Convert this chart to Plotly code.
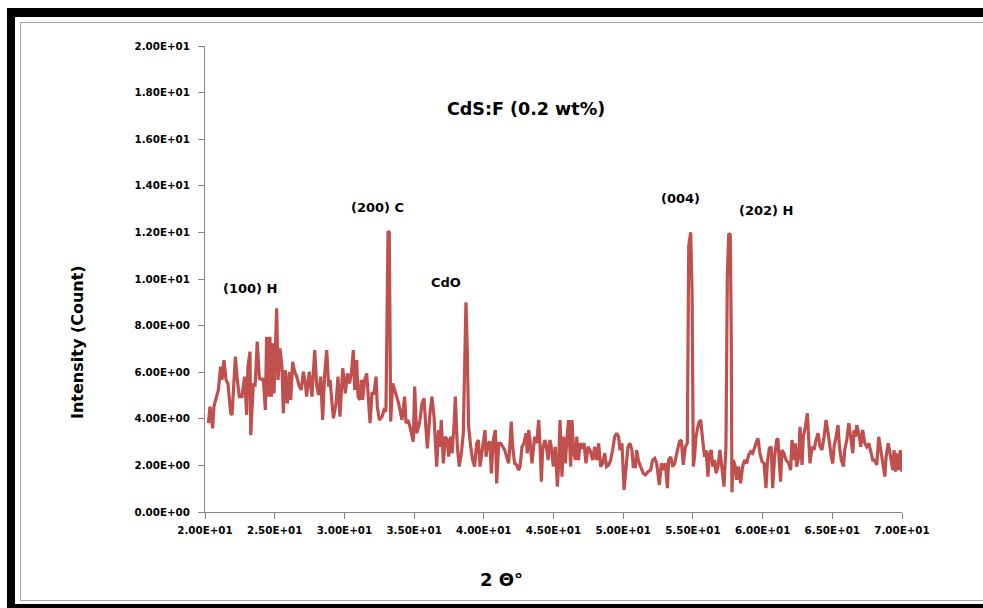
import plotly.graph_objects as go

# ---- data ----
x_deg = [
    20.24, 20.36, 20.55, 20.64, 20.79, 20.96, 21.12, 21.22, 21.36, 21.51, 21.65, 21.84, 21.94,
    22.18, 22.32, 22.46, 22.65, 22.84, 22.99, 23.08, 23.23, 23.28, 23.47, 23.59, 23.75, 23.90,
    24.09, 24.18, 24.33, 24.42, 24.57, 24.66, 24.76, 24.85, 24.95, 25.04, 25.14, 25.24, 25.38,
    25.52, 25.62, 25.76, 25.91, 26.05, 26.15, 26.29, 26.43, 26.58, 26.77, 26.91, 27.05, 27.20,
    27.29, 27.48, 27.67, 27.87, 28.01, 28.15, 28.30, 28.44, 28.58, 28.73, 28.87, 28.97, 29.11,
    29.21, 29.40, 29.54, 29.68, 29.88, 30.07, 30.21, 30.36, 30.50, 30.64, 30.74, 30.88, 30.98,
    31.12, 31.21, 31.31, 31.45, 31.60, 31.69, 31.84, 31.98, 32.12, 32.27, 32.36, 32.51, 32.70,
    32.84, 32.98, 33.13, 33.22, 33.32, 33.46, 33.61, 33.89, 34.13, 34.32, 34.42, 34.56, 34.70,
    34.80, 34.94, 35.04, 35.18, 35.33, 35.42, 35.57, 35.71, 35.81, 35.95, 36.14, 36.28, 36.43,
    36.62, 36.76, 36.86, 36.95, 37.10, 37.24, 37.38, 37.48, 37.62, 37.72, 37.86, 37.96, 38.10,
    38.24, 38.39, 38.53, 38.63, 38.72, 38.82, 38.91, 39.06, 39.20, 39.34, 39.49, 39.61, 39.73,
    39.92, 40.09, 40.16, 40.30, 40.44, 40.54, 40.68, 40.83, 40.92, 41.07, 41.21, 41.35, 41.50,
    41.64, 41.78, 41.88, 41.97, 42.07, 42.21, 42.36, 42.50, 42.60, 42.74, 42.88, 43.03, 43.12,
    43.22, 43.31, 43.46, 43.55, 43.65, 43.79, 43.94, 44.03, 44.13, 44.22, 44.37, 44.46, 44.61,
    44.75, 44.84, 44.99, 45.13, 45.28, 45.37, 45.47, 45.61, 45.71, 45.85, 45.99, 46.09, 46.23,
    46.33, 46.42, 46.57, 46.66, 46.80, 46.90, 47.04, 47.19, 47.33, 47.48, 47.62, 47.81, 47.95,
    48.10, 48.24, 48.38, 48.53, 48.67, 48.81, 48.96, 49.10, 49.24, 49.39, 49.53, 49.67, 49.77,
    49.91, 50.06, 50.34, 50.48, 50.63, 50.72, 50.87, 50.96, 51.11, 51.25, 51.44, 51.59, 51.78,
    51.97, 52.11, 52.26, 52.40, 52.59, 52.74, 52.88, 53.02, 53.17, 53.26, 53.41, 53.55, 53.69,
    53.88, 54.03, 54.17, 54.31, 54.46, 54.60, 54.70, 54.84, 54.94, 55.03, 55.12, 55.22, 55.41,
    55.56, 55.70, 55.84, 55.94, 56.08, 56.18, 56.32, 56.42, 56.56, 56.66, 56.80, 56.94, 57.09,
    57.23, 57.37, 57.47, 57.57, 57.68, 57.75, 57.80, 57.90, 58.04, 58.14, 58.28, 58.42, 58.57,
    58.71, 58.86, 59.00, 59.14, 59.29, 59.43, 59.57, 59.67, 59.81, 59.96, 60.10, 60.24, 60.34,
    60.48, 60.62, 60.72, 60.86, 61.01, 61.10, 61.20, 61.29, 61.39, 61.53, 61.68, 61.87, 62.01,
    62.11, 62.25, 62.35, 62.44, 62.59, 62.68, 62.83, 62.92, 63.07, 63.21, 63.31, 63.40, 63.55,
    63.69, 63.83, 63.98, 64.12, 64.26, 64.41, 64.55, 64.70, 64.84, 64.93, 65.03, 65.13, 65.27,
    65.41, 65.51, 65.65, 65.80, 65.89, 66.04, 66.18, 66.32, 66.47, 66.56, 66.66, 66.75, 66.90,
    67.04, 67.18, 67.33, 67.47, 67.62, 67.76, 67.90, 68.05, 68.19, 68.33, 68.48, 68.62, 68.77,
    68.86, 69.01, 69.10, 69.24, 69.34, 69.43, 69.53, 69.67, 69.77, 69.87, 69.96, 70.00,
]
intensity = [
    3.81, 4.52, 3.59, 4.52, 4.88, 5.24, 6.24, 5.67, 6.52, 5.67, 5.50, 4.24, 4.17,
    6.67, 5.67, 4.95, 4.95, 5.81, 4.17, 6.24, 6.88, 3.30, 5.52, 5.38, 7.31, 5.74,
    5.67, 5.74, 4.38, 7.52, 4.95, 7.52, 4.95, 7.24, 5.09, 6.81, 8.74, 5.67, 7.02,
    6.24, 4.24, 6.09, 4.66, 6.02, 4.81, 6.45, 6.02, 5.81, 5.38, 5.24, 6.02, 5.52,
    4.95, 6.02, 4.95, 6.95, 5.45, 5.02, 5.81, 3.95, 5.88, 6.95, 5.38, 5.67, 4.81,
    4.02, 4.66, 5.81, 4.09, 6.17, 5.09, 5.95, 5.52, 5.95, 6.95, 5.24, 6.52, 4.95,
    4.81, 5.67, 4.81, 5.67, 5.95, 5.09, 3.81, 5.09, 5.09, 5.81, 4.52, 3.95, 4.09,
    4.38, 4.31, 12.05, 12.00, 3.88, 5.52, 5.24, 4.66, 3.95, 4.95, 3.81, 3.95, 3.66,
    3.38, 3.02, 5.38, 3.38, 3.66, 3.95, 4.66, 4.88, 3.95, 2.73, 4.24, 4.95, 4.09,
    1.95, 3.52, 2.80, 3.95, 2.09, 3.23, 3.09, 2.38, 3.23, 2.52, 3.66, 4.95, 2.80,
    1.95, 2.52, 3.38, 6.52, 9.00, 6.81, 3.66, 2.80, 2.24, 1.95, 2.95, 3.09, 1.95,
    2.80, 3.52, 2.37, 2.95, 3.02, 1.66, 3.09, 3.52, 1.23, 2.95, 2.95, 2.80, 2.66,
    2.37, 2.09, 2.95, 3.88, 2.80, 2.09, 2.02, 1.80, 1.95, 2.80, 2.95, 3.38, 2.52,
    3.52, 3.09, 2.09, 2.66, 3.23, 2.95, 3.95, 2.95, 1.30, 2.66, 3.09, 2.95, 2.23,
    3.09, 2.80, 1.95, 2.80, 1.09, 2.09, 3.95, 1.52, 3.23, 2.09, 3.38, 3.95, 1.95,
    3.95, 2.66, 2.23, 3.23, 2.23, 2.95, 2.80, 2.95, 2.09, 2.80, 2.66, 2.23, 2.80,
    2.23, 2.95, 1.95, 2.09, 2.52, 1.95, 2.02, 2.23, 2.66, 3.23, 3.38, 3.23, 2.66,
    2.95, 0.95, 2.80, 2.95, 2.66, 1.95, 1.95, 2.66, 2.16, 1.95, 1.66, 1.59, 1.73,
    1.80, 2.23, 2.30, 2.09, 1.16, 2.09, 1.80, 2.09, 1.02, 2.23, 2.37, 1.95, 2.09,
    2.66, 3.02, 3.09, 2.02, 2.80, 2.95, 11.40, 12.00, 9.50, 1.95, 2.37, 3.23, 3.81,
    3.95, 3.09, 2.37, 2.66, 1.52, 2.52, 2.66, 1.95, 2.23, 1.66, 1.95, 2.66, 1.95,
    1.09, 2.80, 10.10, 11.95, 11.90, 7.70, 0.85, 2.23, 1.95, 1.38, 1.95, 1.23, 1.95,
    2.23, 2.09, 2.45, 2.59, 2.52, 2.80, 3.02, 3.16, 2.52, 2.16, 2.09, 1.02, 2.09,
    2.73, 2.80, 1.02, 2.37, 3.09, 3.16, 2.09, 1.30, 2.66, 2.52, 2.23, 2.09, 1.80,
    3.09, 2.23, 2.95, 1.95, 2.37, 3.66, 2.02, 3.23, 3.66, 4.24, 3.23, 2.09, 2.80,
    2.66, 3.09, 3.38, 2.80, 2.66, 3.23, 3.95, 3.38, 2.66, 2.37, 2.09, 2.80, 3.23,
    3.73, 2.80, 2.23, 1.95, 2.66, 3.09, 3.81, 3.23, 2.52, 3.52, 3.23, 3.73, 3.38,
    2.80, 3.52, 2.95, 2.80, 2.95, 2.52, 2.23, 2.23, 2.02, 3.23, 2.66, 2.23, 1.52,
    2.37, 2.95, 2.66, 2.23, 1.80, 2.66, 1.73, 2.52, 1.80, 2.66, 1.95, 1.73,
]

y_tick_values = [0, 2, 4, 6, 8, 10, 12, 14, 16, 18, 20]
y_tick_labels = ["0.00E+00", "2.00E+00", "4.00E+00", "6.00E+00", "8.00E+00", "1.00E+01",
                 "1.20E+01", "1.40E+01", "1.60E+01", "1.80E+01", "2.00E+01"]
x_tick_values = [20, 25, 30, 35, 40, 45, 50, 55, 60, 65, 70]
x_tick_labels = ["2.00E+01", "2.50E+01", "3.00E+01", "3.50E+01", "4.00E+01", "4.50E+01",
                 "5.00E+01", "5.50E+01", "6.00E+01", "6.50E+01", "7.00E+01"]

peak_labels = ["(100) H", "(200) C", "CdO", "(004)", "(202) H"]
chart_title = "CdS:F (0.2 wt%)"
x_title = "2 Θ°"
y_title = "Intensity (Count)"

# ---- layout geometry (pixels) ----
W, H = 983, 608
L, R, T, B = 205, 81, 46, 96
PW, PH = W - L - R, H - T - B


def px(xp):
    return (xp - L) / PW


def py(yp):
    return (H - B - yp) / PH


FONT = "'DejaVu Sans', Verdana, sans-serif"
LINE_RED = "#c0504d"
AXIS_GRAY = "#868686"

fig = go.Figure()
fig.add_trace(go.Scatter(
    x=x_deg, y=intensity, mode="lines",
    line=dict(color=LINE_RED, width=3.2), showlegend=False,
))

fig.update_layout(
    width=W, height=H,
    margin=dict(l=L, r=R, t=T, b=B),
    paper_bgcolor="white", plot_bgcolor="white",
    font=dict(family=FONT, color="black"),
    xaxis=dict(
        range=[20, 70], showgrid=False, zeroline=False,
        showline=True, linecolor=AXIS_GRAY, linewidth=1,
        ticks="outside", ticklen=6, tickcolor=AXIS_GRAY,
        tickvals=x_tick_values, ticktext=["<b>%s</b>" % t for t in x_tick_labels],
        tickfont=dict(size=10.3, family=FONT), ticklabelstandoff=3,
    ),
    yaxis=dict(
        range=[0, 20], showgrid=False, zeroline=False,
        showline=True, linecolor=AXIS_GRAY, linewidth=1,
        ticks="outside", ticklen=6, tickcolor=AXIS_GRAY,
        tickvals=y_tick_values, ticktext=["<b>%s</b>" % t for t in y_tick_labels],
        tickfont=dict(size=10.3, family=FONT), ticklabelstandoff=6,
    ),
)

# frame
shapes = [
    dict(type="rect", xref="paper", yref="paper", x0=px(20.5), x1=px(1000), y0=py(22.5), y1=py(600.5),
         line=dict(color="#a6a6a6", width=1), fillcolor="rgba(0,0,0,0)", layer="below"),
    dict(type="rect", xref="paper", yref="paper", x0=px(7), x1=px(990), y0=py(17), y1=py(8),
         line=dict(width=0), fillcolor="black"),
    dict(type="rect", xref="paper", yref="paper", x0=px(7), x1=px(15), y0=py(608), y1=py(8),
         line=dict(width=0), fillcolor="black"),
    dict(type="rect", xref="paper", yref="paper", x0=px(7), x1=px(990), y0=py(608), y1=py(604),
         line=dict(width=0), fillcolor="black"),
]
fig.update_layout(shapes=shapes)

# peak labels (positions in data units)
label_pos = [(23.25, 9.6), (32.35, 13.05), (37.3, 9.85), (54.1, 13.45), (60.25, 12.95)]
annotations = []
for text, (ax, ay) in zip(peak_labels, label_pos):
    annotations.append(dict(x=ax, y=ay, xref="x", yref="y", text="<b>%s</b>" % text,
                            xanchor="center", yanchor="middle",
                            showarrow=False, font=dict(size=13, family=FONT)))
annotations.append(dict(x=43.05, y=17.3, xref="x", yref="y", text="<b>%s</b>" % chart_title,
                        xanchor="center", yanchor="middle",
                        showarrow=False, font=dict(size=17.5, family=FONT)))
annotations.append(dict(x=px(501), y=py(579), xref="paper", yref="paper", text="<b>%s</b>" % x_title,
                        xanchor="center", yanchor="middle",
                        showarrow=False, font=dict(size=18, family=FONT)))
annotations.append(dict(x=px(77), y=py(342), xref="paper", yref="paper", text="<b>%s</b>" % y_title,
                        xanchor="center", yanchor="middle",
                        showarrow=False, textangle=-90, font=dict(size=16, family=FONT)))
fig.update_layout(annotations=annotations)

fig.write_html("out.html")
